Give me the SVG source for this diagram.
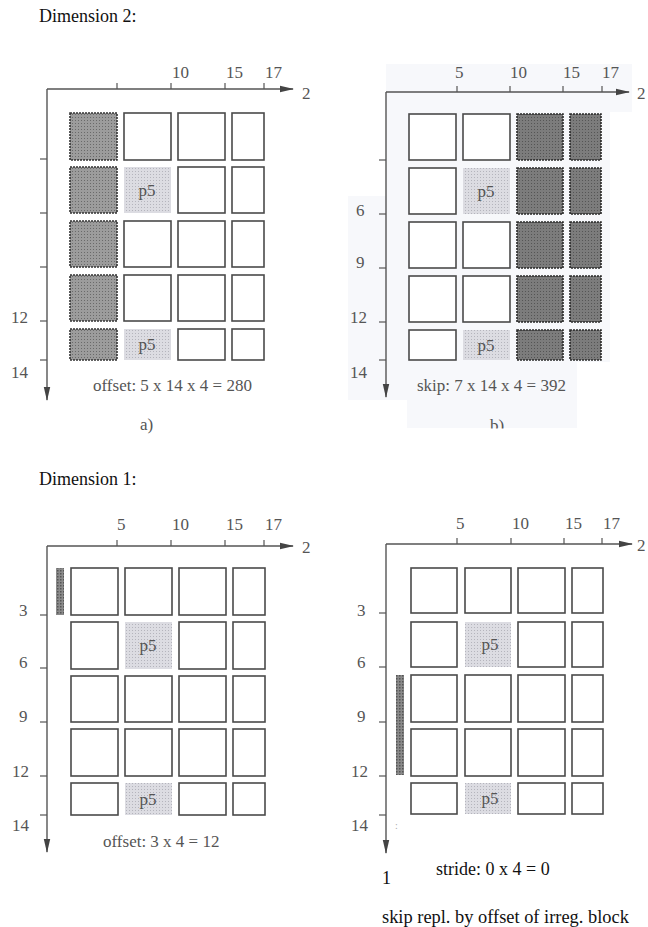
<svg xmlns="http://www.w3.org/2000/svg" width="648" height="927" viewBox="0 0 648 927">
<style>
text{font-family:"Liberation Serif","Times New Roman",serif;}
.t{font-size:17px;fill:#555;}
.h{font-size:18px;fill:#111;}
.ax{stroke:#555;stroke-width:1.4;fill:none;}
.tk{stroke:#555;stroke-width:1.2;}
.c{fill:#fff;stroke:#4a4a4a;stroke-width:1.6;}
.d{fill:url(#dk);stroke:#333;stroke-width:1.6;stroke-dasharray:2 1;}
.d2{fill:url(#dk2);stroke:#2a2a2a;stroke-width:1.6;stroke-dasharray:2 1;}
.p{fill:url(#lt);}
.pl{font-size:17px;fill:#555;text-anchor:middle;}
.bar{fill:url(#bar);}
</style>
<defs>
<pattern id="dk" width="3" height="3" patternUnits="userSpaceOnUse"><rect width="3" height="3" fill="#9c9c9c"/><rect width="1" height="1" fill="#6a6a6a"/></pattern>
<pattern id="dk2" width="3" height="3" patternUnits="userSpaceOnUse"><rect width="3" height="3" fill="#7c7c7c"/><rect width="1" height="1" fill="#555"/></pattern>
<pattern id="lt" width="3" height="3" patternUnits="userSpaceOnUse"><rect width="3" height="3" fill="#dcdce2"/><rect width="1" height="1" fill="#b4b4bc"/></pattern>
<pattern id="bar" width="3" height="3" patternUnits="userSpaceOnUse"><rect width="3" height="3" fill="#8a8a8a"/><rect width="1.5" height="1.5" fill="#555"/></pattern>
<marker id="ar" markerWidth="14" markerHeight="8" refX="13" refY="4" orient="auto" markerUnits="userSpaceOnUse"><path d="M0,0.8 L14,4 L0,7.2 Z" fill="#444"/></marker>
<clipPath id="bclip"><rect x="330" y="400" width="300" height="28.5"/></clipPath>
</defs>
<rect width="648" height="927" fill="#fff"/>

<text class="h" x="39" y="22">Dimension 2:</text>
<text class="h" x="39" y="485">Dimension 1:</text>

<!-- Panel a -->
<g id="panel-a">
<g id="a-axes">
<line class="ax" x1="47" y1="89" x2="293" y2="89" marker-end="url(#ar)"/>
<line class="ax" x1="47" y1="89" x2="47" y2="400" marker-end="url(#ar)"/>
<line class="tk" x1="117" y1="83" x2="117" y2="89"/>
<line class="tk" x1="171" y1="83" x2="171" y2="89"/>
<line class="tk" x1="225" y1="83" x2="225" y2="89"/>
<line class="tk" x1="264" y1="83" x2="264" y2="89"/>
<line class="tk" x1="40" y1="159" x2="47" y2="159"/>
<line class="tk" x1="40" y1="213" x2="47" y2="213"/>
<line class="tk" x1="40" y1="267" x2="47" y2="267"/>
<line class="tk" x1="40" y1="321" x2="47" y2="321"/>
<line class="tk" x1="40" y1="360" x2="47" y2="360"/>
</g>
<text class="t" x="172" y="78">10</text>
<text class="t" x="226" y="78">15</text>
<text class="t" x="265" y="78">17</text>
<text class="t" x="302" y="99">2</text>
<text class="t" x="11" y="323">12</text>
<text class="t" x="11" y="378">14</text>
<g id="a-cells">
<rect class="d" x="70" y="113" width="47" height="47"/>
<rect class="d" x="70" y="167" width="47" height="46"/>
<rect class="d" x="70" y="221" width="47" height="46"/>
<rect class="d" x="70" y="275" width="47" height="46"/>
<rect class="d" x="70" y="329" width="47" height="31"/>
<rect class="c" x="124" y="113" width="47" height="47"/>
<rect class="p" x="124" y="167" width="47" height="46"/>
<rect class="c" x="124" y="221" width="47" height="46"/>
<rect class="c" x="124" y="275" width="47" height="46"/>
<rect class="p" x="124" y="329" width="47" height="31"/>
<rect class="c" x="178" y="113" width="47" height="47"/>
<rect class="c" x="178" y="167" width="47" height="46"/>
<rect class="c" x="178" y="221" width="47" height="46"/>
<rect class="c" x="178" y="275" width="47" height="46"/>
<rect class="c" x="178" y="329" width="47" height="31"/>
<rect class="c" x="232" y="113" width="32" height="47"/>
<rect class="c" x="232" y="167" width="32" height="46"/>
<rect class="c" x="232" y="221" width="32" height="46"/>
<rect class="c" x="232" y="275" width="32" height="46"/>
<rect class="c" x="232" y="329" width="32" height="31"/>
</g>
<text class="pl" x="147" y="196">p5</text>
<text class="pl" x="147" y="350">p5</text>
<text class="t" x="93" y="391">offset: 5 x 14 x 4 = 280</text>
<text class="t" x="140" y="430">a)</text>
</g>

<!-- Panel b -->
<g id="panel-b">
<path d="M386,64 H632 V112 H610 V362 H577 V428 H407 V400 H348 V196 H386 Z" fill="#f7f8fb"/>
<g id="b-axes">
<line class="ax" x1="386" y1="92" x2="629" y2="92" marker-end="url(#ar)"/>
<line class="ax" x1="386" y1="92" x2="386" y2="397" marker-end="url(#ar)"/>
<line class="tk" x1="457" y1="86" x2="457" y2="92"/>
<line class="tk" x1="510" y1="86" x2="510" y2="92"/>
<line class="tk" x1="563" y1="86" x2="563" y2="92"/>
<line class="tk" x1="602" y1="86" x2="602" y2="92"/>
<line class="tk" x1="379" y1="160" x2="386" y2="160"/>
<line class="tk" x1="379" y1="214" x2="386" y2="214"/>
<line class="tk" x1="379" y1="268" x2="386" y2="268"/>
<line class="tk" x1="379" y1="322" x2="386" y2="322"/>
<line class="tk" x1="379" y1="360" x2="386" y2="360"/>
</g>
<text class="t" x="455" y="78">5</text>
<text class="t" x="510" y="78">10</text>
<text class="t" x="563" y="78">15</text>
<text class="t" x="602" y="78">17</text>
<text class="t" x="637" y="99">2</text>
<text class="t" x="356" y="216">6</text>
<text class="t" x="356" y="268">9</text>
<text class="t" x="350" y="323">12</text>
<text class="t" x="350" y="378">14</text>
<g id="b-cells">
<rect class="c" x="409" y="114" width="47" height="46"/>
<rect class="c" x="409" y="168" width="47" height="46"/>
<rect class="c" x="409" y="222" width="47" height="46"/>
<rect class="c" x="409" y="276" width="47" height="46"/>
<rect class="c" x="409" y="330" width="47" height="30"/>
<rect class="c" x="463" y="114" width="47" height="46"/>
<rect class="p" x="463" y="168" width="47" height="46"/>
<rect class="c" x="463" y="222" width="47" height="46"/>
<rect class="c" x="463" y="276" width="47" height="46"/>
<rect class="p" x="463" y="330" width="47" height="30"/>
<rect class="d2" x="517" y="114" width="46" height="46"/>
<rect class="d2" x="517" y="168" width="46" height="46"/>
<rect class="d2" x="517" y="222" width="46" height="46"/>
<rect class="d2" x="517" y="276" width="46" height="46"/>
<rect class="d2" x="517" y="330" width="46" height="30"/>
<rect class="d2" x="570" y="114" width="31" height="46"/>
<rect class="d2" x="570" y="168" width="31" height="46"/>
<rect class="d2" x="570" y="222" width="31" height="46"/>
<rect class="d2" x="570" y="276" width="31" height="46"/>
<rect class="d2" x="570" y="330" width="31" height="30"/>
</g>
<text class="pl" x="486" y="197">p5</text>
<text class="pl" x="486" y="351">p5</text>
<text class="t" x="417" y="391">skip: 7 x 14 x 4 = 392</text>
<text class="t" x="490" y="431" clip-path="url(#bclip)">b)</text>
</g>

<!-- Panel c -->
<g id="panel-c">
<g id="c-axes">
<line class="ax" x1="47" y1="546" x2="293" y2="546" marker-end="url(#ar)"/>
<line class="ax" x1="47" y1="546" x2="47" y2="852" marker-end="url(#ar)"/>
<line class="tk" x1="117" y1="540" x2="117" y2="546"/>
<line class="tk" x1="171" y1="540" x2="171" y2="546"/>
<line class="tk" x1="225" y1="540" x2="225" y2="546"/>
<line class="tk" x1="264" y1="540" x2="264" y2="546"/>
<line class="tk" x1="40" y1="615" x2="47" y2="615"/>
<line class="tk" x1="40" y1="668" x2="47" y2="668"/>
<line class="tk" x1="40" y1="722" x2="47" y2="722"/>
<line class="tk" x1="40" y1="776" x2="47" y2="776"/>
<line class="tk" x1="40" y1="815" x2="47" y2="815"/>
</g>
<text class="t" x="117" y="530">5</text>
<text class="t" x="172" y="530">10</text>
<text class="t" x="226" y="530">15</text>
<text class="t" x="265" y="530">17</text>
<text class="t" x="302" y="553">2</text>
<text class="t" x="19" y="616">3</text>
<text class="t" x="19" y="668">6</text>
<text class="t" x="19" y="722">9</text>
<text class="t" x="12" y="777">12</text>
<text class="t" x="12" y="831">14</text>
<rect class="bar" x="56" y="568" width="8" height="47"/>
<g id="c-cells">
<rect class="c" x="71" y="568" width="47" height="47"/>
<rect class="c" x="71" y="622" width="47" height="47"/>
<rect class="c" x="71" y="676" width="47" height="46"/>
<rect class="c" x="71" y="729" width="47" height="47"/>
<rect class="c" x="71" y="783" width="47" height="32"/>
<rect class="c" x="125" y="568" width="47" height="47"/>
<rect class="p" x="125" y="622" width="47" height="47"/>
<rect class="c" x="125" y="676" width="47" height="46"/>
<rect class="c" x="125" y="729" width="47" height="47"/>
<rect class="p" x="125" y="783" width="47" height="32"/>
<rect class="c" x="179" y="568" width="47" height="47"/>
<rect class="c" x="179" y="622" width="47" height="47"/>
<rect class="c" x="179" y="676" width="47" height="46"/>
<rect class="c" x="179" y="729" width="47" height="47"/>
<rect class="c" x="179" y="783" width="47" height="32"/>
<rect class="c" x="233" y="568" width="32" height="47"/>
<rect class="c" x="233" y="622" width="32" height="47"/>
<rect class="c" x="233" y="676" width="32" height="46"/>
<rect class="c" x="233" y="729" width="32" height="47"/>
<rect class="c" x="233" y="783" width="32" height="32"/>
</g>
<text class="pl" x="148" y="651">p5</text>
<text class="pl" x="148" y="805">p5</text>
<text class="t" x="103" y="847">offset: 3 x 4 = 12</text>
</g>

<!-- Panel d -->
<g id="panel-d">
<g id="d-axes">
<line class="ax" x1="386" y1="544" x2="632" y2="544" marker-end="url(#ar)"/>
<line class="ax" x1="386" y1="544" x2="386" y2="853" marker-end="url(#ar)"/>
<line class="tk" x1="457" y1="538" x2="457" y2="544"/>
<line class="tk" x1="511" y1="538" x2="511" y2="544"/>
<line class="tk" x1="564" y1="538" x2="564" y2="544"/>
<line class="tk" x1="602" y1="538" x2="602" y2="544"/>
<line class="tk" x1="379" y1="613" x2="386" y2="613"/>
<line class="tk" x1="379" y1="667" x2="386" y2="667"/>
<line class="tk" x1="379" y1="722" x2="386" y2="722"/>
<line class="tk" x1="379" y1="776" x2="386" y2="776"/>
<line class="tk" x1="379" y1="815" x2="386" y2="815"/>
</g>
<text class="t" x="456" y="529">5</text>
<text class="t" x="512" y="529">10</text>
<text class="t" x="565" y="529">15</text>
<text class="t" x="603" y="529">17</text>
<text class="t" x="637" y="551">2</text>
<text class="t" x="357" y="616">3</text>
<text class="t" x="357" y="668">6</text>
<text class="t" x="357" y="722">9</text>
<text class="t" x="351" y="777">12</text>
<text class="t" x="351" y="831">14</text>
<rect class="bar" x="396" y="675" width="8" height="100"/>
<text x="395" y="829" style="font-size:10px;fill:#aaa;">:</text>
<g id="d-cells">
<rect class="c" x="411" y="568" width="46" height="45"/>
<rect class="c" x="411" y="622" width="46" height="45"/>
<rect class="c" x="411" y="675" width="46" height="47"/>
<rect class="c" x="411" y="729" width="46" height="47"/>
<rect class="c" x="411" y="783" width="46" height="31"/>
<rect class="c" x="465" y="568" width="46" height="45"/>
<rect class="p" x="465" y="622" width="46" height="45"/>
<rect class="c" x="465" y="675" width="46" height="47"/>
<rect class="c" x="465" y="729" width="46" height="47"/>
<rect class="p" x="465" y="783" width="46" height="31"/>
<rect class="c" x="518" y="568" width="47" height="45"/>
<rect class="c" x="518" y="622" width="47" height="45"/>
<rect class="c" x="518" y="675" width="47" height="47"/>
<rect class="c" x="518" y="729" width="47" height="47"/>
<rect class="c" x="518" y="783" width="47" height="31"/>
<rect class="c" x="572" y="568" width="31" height="45"/>
<rect class="c" x="572" y="622" width="31" height="45"/>
<rect class="c" x="572" y="675" width="31" height="47"/>
<rect class="c" x="572" y="729" width="31" height="47"/>
<rect class="c" x="572" y="783" width="31" height="31"/>
</g>
<text class="pl" x="490" y="650">p5</text>
<text class="pl" x="490" y="804">p5</text>
<text class="h" x="436" y="875">stride: 0 x 4 = 0</text>
<text class="h" x="382" y="884">1</text>
<text class="h" x="382" y="923" style="font-size:18.4px">skip repl. by offset of irreg. block</text>
</g>
</svg>
